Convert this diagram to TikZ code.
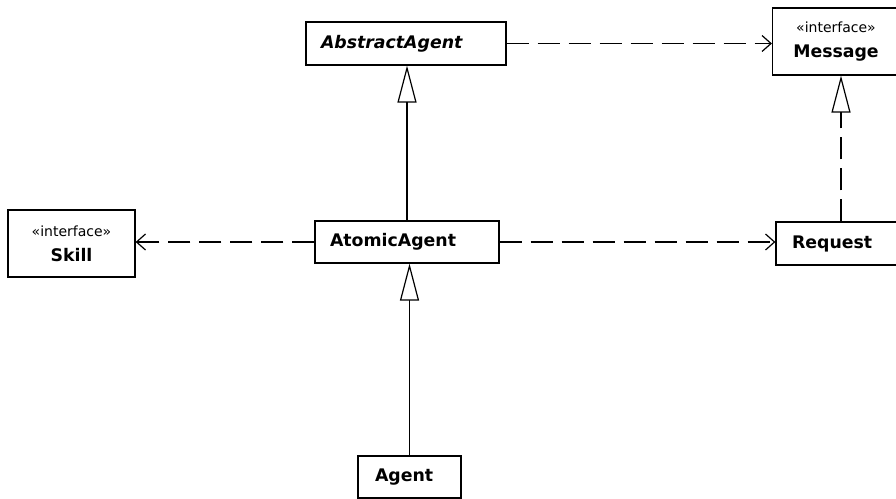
\documentclass[tikz,border=0pt]{standalone}
\usepackage{fontspec}
\setmainfont{DejaVu Sans}
\usetikzlibrary{arrows.meta}

\tikzset{
  classbox/.style={draw=black,line width=0.9pt,fill=white,rectangle,inner xsep=11.25pt,inner ysep=0pt,
    align=left,font=\bfseries\fontsize{13}{15}\selectfont},
  ifacebox/.style={draw=black,line width=0.9pt,fill=white,rectangle,inner sep=0pt,align=center,
    minimum width=95.25pt,minimum height=50.25pt,font=\fontsize{13}{18.5}\selectfont},
  depends/.style={line width=0.9pt,dash pattern=on 16.5pt off 6.75pt,
    -{Straight Barb[length=6.75pt,width=12pt,line width=0.9pt]}},
  realizes/.style={line width=0.9pt,dash pattern=on 16.5pt off 6.75pt,
    -{Triangle[open,fill=white,length=27.75pt,width=14.25pt,line width=0.9pt]}},
  extends/.style={line width=0.9pt,
    -{Triangle[open,fill=white,length=27.75pt,width=14.25pt,line width=0.9pt]}}
}
\newcommand{\stereo}{{\mdseries\fontsize{10.5}{18.5}\selectfont «interface»}}

\begin{document}
\begin{tikzpicture}[line cap=butt,line join=miter,x=0.75pt,y=-0.75pt]
\clip (0,0) rectangle (896,499);
% classes
\node[classbox,text width=127.5pt,minimum height=32.25pt] (abstract) at (406,43.5) {\itshape AbstractAgent};
\node[classbox,text width=115.5pt,minimum height=31.5pt] (atomic) at (407,242) {AtomicAgent};
\node[classbox,inner xsep=12pt,text width=73.5pt,minimum height=32.25pt] (request) at (841,243.5) {Request};
\node[classbox,inner xsep=12.75pt,text width=51.75pt,minimum height=31.5pt] (agent) at (409.5,477) {Agent};
% interfaces
\node[ifacebox] (message) at (836,41.5) {\stereo\\\textbf{Message}};
\node[ifacebox] (skill) at (71.5,243.5) {\stereo\\\textbf{Skill}};
% dependencies
\draw[depends] (abstract.east) -- (abstract.east -| message.west);
\draw[depends] (atomic.west) -- (atomic.west -| skill.east);
\draw[depends] (atomic.east) -- (atomic.east -| request.west);
% realization and generalization
\draw[realizes] (request.north) -- (request.north |- message.south);
\draw[extends] (atomic.north) -- (atomic.north |- abstract.south);
\draw[extends] (agent.north) -- (agent.north |- atomic.south);
\end{tikzpicture}
\end{document}
